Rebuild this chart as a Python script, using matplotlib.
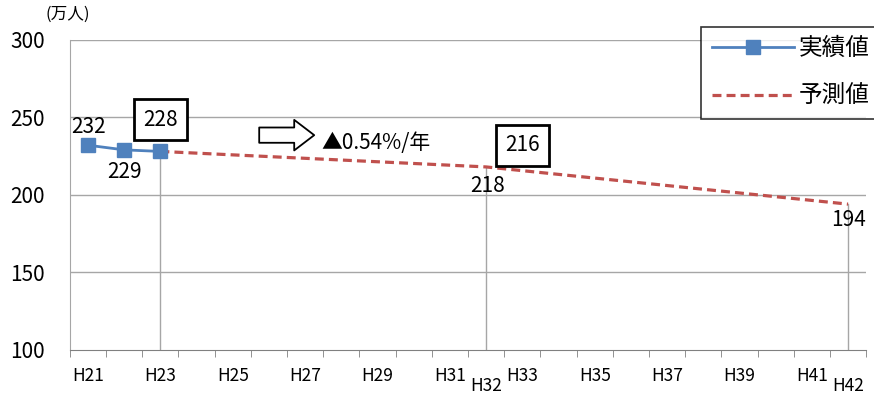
import numpy as np
import matplotlib
matplotlib.use("Agg")
import matplotlib.pyplot as plt

plt.rcParams['font.family'] = ['Noto Sans CJK JP', 'DejaVu Sans']

# data
years = ["H%d" % y for y in range(21, 43)]
actual_years = ["H21", "H22", "H23"]
actual = [232, 229, 228]
forecast_years = ["H23", "H32", "H42"]
forecast = [228, 218, 194]
drop_years = ["H23", "H32", "H42"]
label_years = ["H21", "H23", "H25", "H27", "H29", "H31", "H32",
               "H33", "H35", "H37", "H39", "H41", "H42"]
low_labels = ["H32", "H42"]
yticks = [100, 150, 200, 250, 300]

idx = {y: i for i, y in enumerate(years)}
xa = [idx[y] for y in actual_years]
xf = [idx[y] for y in forecast_years]

blue = '#4F81BD'
red = '#C0504D'
grid = '#A6A6A6'

fig = plt.figure(figsize=(8.74, 3.94), dpi=100)
ax = fig.add_axes([0.080, 0.112, 0.911, 0.787])

ax.set_xlim(-0.5, len(years) - 0.5)
ax.set_ylim(100, 300)
ax.set_yticks(yticks)
for v in yticks[1:]:
    ax.axhline(v, color=grid, lw=1, zorder=0)

# drop lines
vals = dict(zip(actual_years, actual))
vals.update(dict(zip(forecast_years, forecast)))
for y in drop_years:
    ax.plot([idx[y], idx[y]], [100, vals[y]], color=grid, lw=1, zorder=1)

ax.plot(xf, forecast, color=red, lw=2.3, ls=(0, (2.8, 1.6)), label='予測値', zorder=2)
ax.plot(xa, actual, color=blue, lw=2, marker='s', ms=9.5, label='実績値', zorder=3)

# data labels
box = dict(boxstyle='square,pad=0.45', fc='white', ec='black', lw=2)
ax.text(idx["H21"], 244, "232", fontsize=15, ha='center', va='center')
ax.text(idx["H22"], 214.5, "229", fontsize=15, ha='center', va='center')
ax.text(idx["H23"], 248.5, "228", fontsize=15, ha='center', va='center', bbox=box)
ax.text(idx["H32"] + 0.03, 205.5, "218", fontsize=15, ha='center', va='center')
ax.text(idx["H33"], 232, "216", fontsize=15, ha='center', va='center', bbox=box)
ax.text(idx["H42"], 184, "194", fontsize=15, ha='center', va='center')

# hollow arrow and rate
ax.annotate('', xy=(6.25, 238.5), xytext=(4.73, 238.5),
            arrowprops=dict(arrowstyle='simple,head_length=0.72,head_width=1.1,tail_width=0.55',
                            mutation_scale=20, shrinkA=0, shrinkB=0,
                            fc='white', ec='black', lw=1.3))
ax.text(6.44, 233.5, "▲0.54%/年", fontsize=15, ha='left', va='center')

ax.text(-0.003, 1.055, "(万人)", transform=ax.transAxes, fontsize=12, ha='center', va='bottom')

# axes styling
for s in ['top', 'right']:
    ax.spines[s].set_visible(False)
ax.spines['left'].set_color(grid)
ax.spines['bottom'].set_color('#808080')
ax.tick_params(axis='y', length=0, labelsize=15, pad=18)
ax.set_xticks(np.arange(-0.5, len(years), 1.0), minor=True)
ax.tick_params(axis='x', which='minor', length=5, color='#808080')
ax.set_xticks([idx[y] for y in label_years])
ax.set_xticklabels(label_years)
ax.tick_params(axis='x', which='major', length=0, labelsize=12.5, pad=12)
for lbl in ax.get_xticklabels():
    if lbl.get_text() in low_labels:
        lbl.set_y(-0.033)

h, l = ax.get_legend_handles_labels()
leg = ax.legend(h[::-1], l[::-1], loc='upper right', bbox_to_anchor=(1.018, 1.042),
                fontsize=17, frameon=True, fancybox=False, edgecolor='black',
                handlelength=3.5, handletextpad=0.2, borderpad=0.45,
                borderaxespad=0, labelspacing=1.05)
leg.get_frame().set_linewidth(1.2)

fig.savefig("out.png", dpi=100)
